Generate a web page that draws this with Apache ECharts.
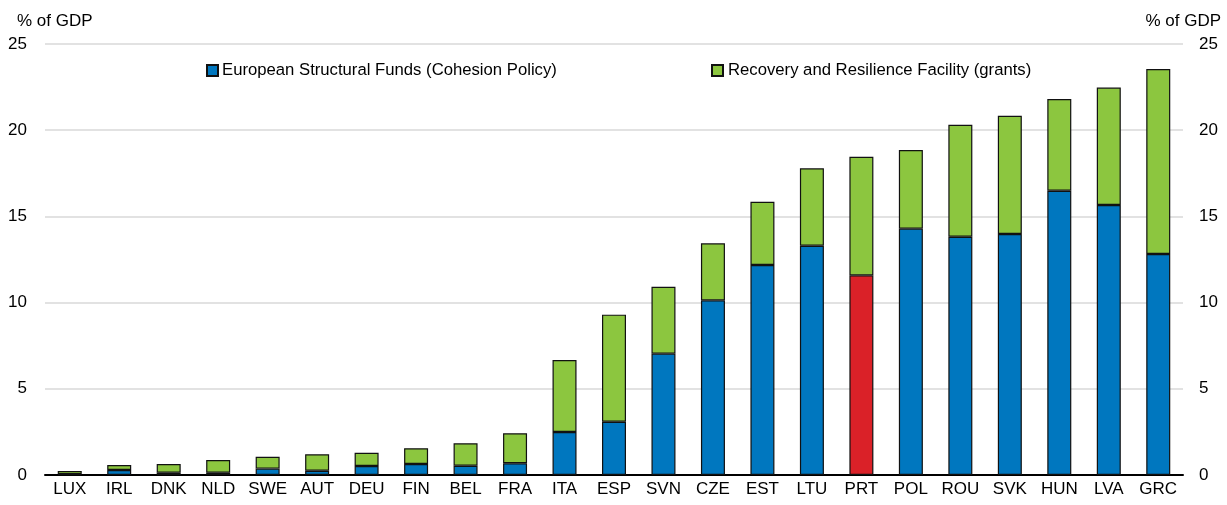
<!DOCTYPE html>
<html>
<head>
<meta charset="utf-8">
<script src="https://cdn.jsdelivr.net/npm/echarts@6/dist/echarts.min.js"></script>
<style>
  html, body { margin: 0; padding: 0; background: #fff; }
  #chart { width: 1227px; height: 505px; }
</style>
</head>
<body>
<div id="chart"></div>
<script>
// countries, sorted by total
var countries = ['LUX', 'IRL', 'DNK', 'NLD', 'SWE', 'AUT', 'DEU', 'FIN', 'BEL', 'FRA', 'ITA', 'ESP',
  'SVN', 'CZE', 'EST', 'LTU', 'PRT', 'POL', 'ROU', 'SVK', 'HUN', 'LVA', 'GRC'];
// European Structural Funds (% of GDP)
var cohesion = [0.05, 0.29, 0.13, 0.13, 0.37, 0.25, 0.52, 0.64, 0.54, 0.68, 2.49, 3.09,
  7.04, 10.13, 12.18, 13.3, 11.58, 14.29, 13.82, 13.98, 16.49, 15.66, 12.82];
// Recovery and Resilience Facility grants (% of GDP)
var rrf = [0.18, 0.29, 0.51, 0.74, 0.69, 0.95, 0.77, 0.91, 1.30, 1.74, 4.18, 6.21,
  3.88, 3.31, 3.67, 4.49, 6.88, 4.56, 6.50, 6.86, 5.32, 6.81, 10.73];
var yTicks = [0, 5, 10, 15, 20, 25];
var highlight = 'PRT';

var BLUE = '#0077bf', GREEN = '#8cc63f', RED = '#da2128';
var FONT = "'Liberation Sans', Arial, sans-serif";

var chart = echarts.init(document.getElementById('chart'));

var cohesionData = cohesion.map(function (v, i) {
  if (countries[i] === highlight) {
    return { value: v, itemStyle: { color: RED } };
  }
  return v;
});

var yAxisBase = {
  type: 'value',
  min: yTicks[0],
  max: yTicks[yTicks.length - 1],
  interval: 5,
  axisLine: { show: false },
  axisTick: { show: false },
  splitLine: { lineStyle: { color: '#d9d9d9', width: 1.5 } },
  axisLabel: { color: '#000', fontSize: 17, fontFamily: FONT },
  nameTextStyle: { color: '#000', fontSize: 17, fontFamily: FONT },
  nameGap: 14
};

chart.setOption({
  animation: false,
  textStyle: { fontFamily: FONT },
  grid: { left: 45, right: 44, top: 44, bottom: 30 },
  legend: [
    {
      data: ['European Structural Funds (Cohesion Policy)'],
      left: 201, top: 57,
      icon: 'rect', itemWidth: 11, itemHeight: 11,
      textStyle: { color: '#000', fontSize: 16.7, fontFamily: FONT, padding: [0, 0, 0, -1] }
    },
    {
      data: ['Recovery and Resilience Facility (grants)'],
      left: 706, top: 57,
      icon: 'rect', itemWidth: 11, itemHeight: 11,
      textStyle: { color: '#000', fontSize: 16.7, fontFamily: FONT, padding: [0, 0, 0, 0] }
    }
  ],
  xAxis: {
    type: 'category',
    data: countries,
    axisLine: { lineStyle: { color: '#000', width: 2 } },
    axisTick: { inside: true, length: 6, interval: 0, lineStyle: { color: '#000', width: 2 } },
    axisLabel: { color: '#000', fontSize: 17, fontFamily: FONT, margin: 6, interval: 0 }
  },
  yAxis: [
    Object.assign({}, yAxisBase, {
      position: 'left', name: '% of GDP', nameLocation: 'end',
      axisLabel: Object.assign({}, yAxisBase.axisLabel, { margin: 18 }),
      nameTextStyle: Object.assign({}, yAxisBase.nameTextStyle, { align: 'left', padding: [0, 0, 0, -28] })
    }),
    Object.assign({}, yAxisBase, {
      position: 'right', name: '% of GDP', nameLocation: 'end',
      splitLine: { show: false },
      axisLabel: Object.assign({}, yAxisBase.axisLabel, { margin: 16 }),
      nameTextStyle: Object.assign({}, yAxisBase.nameTextStyle, { align: 'right', padding: [0, -38, 0, 0] })
    })
  ],
  series: [
    {
      name: 'European Structural Funds (Cohesion Policy)',
      type: 'bar',
      stack: 'total',
      barWidth: 24,
      itemStyle: { color: BLUE, borderColor: '#111', borderWidth: 1.2 },
      data: cohesionData
    },
    {
      name: 'Recovery and Resilience Facility (grants)',
      type: 'bar',
      stack: 'total',
      barWidth: 24,
      itemStyle: { color: GREEN, borderColor: '#111', borderWidth: 1.2 },
      data: rrf
    }
  ]
});
</script>
</body>
</html>
